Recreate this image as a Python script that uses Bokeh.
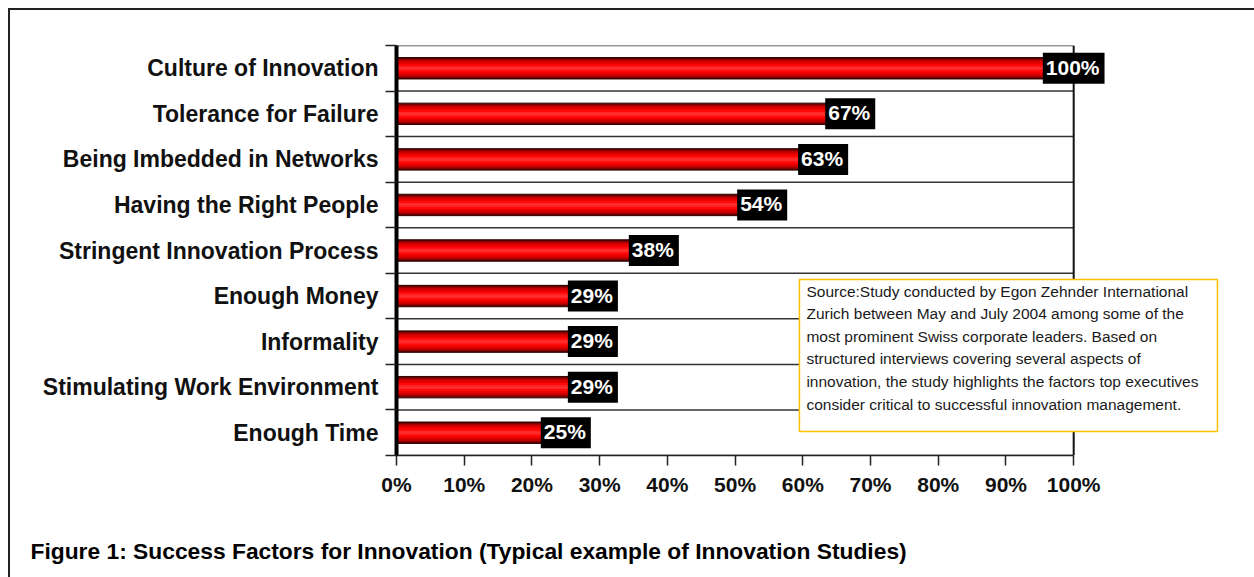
from bokeh.plotting import figure
from bokeh.layouts import column
from bokeh.models import Range1d, LinearAxis, FixedTicker, Label, ColumnDataSource
from bokeh.embed import file_html
from bokeh.resources import INLINE

# ---------------- data ----------------
categories = ["Culture of Innovation", "Tolerance for Failure", "Being Imbedded in Networks",
              "Having the Right People", "Stringent Innovation Process", "Enough Money",
              "Informality", "Stimulating Work Environment", "Enough Time"]
values = [100, 67, 63, 54, 38, 29, 29, 29, 25]
x_ticks = [0, 10, 20, 30, 40, 50, 60, 70, 80, 90, 100]
note_lines = ["Source:Study conducted by Egon Zehnder International",
              "Zurich between May and July 2004 among some of the",
              "most prominent Swiss corporate leaders. Based on",
              "structured interviews covering several aspects of",
              "innovation, the study highlights the factors top executives",
              "consider critical to successful innovation management."]
caption = "Figure 1: Success Factors for Innovation (Typical example of Innovation Studies)"

n = len(categories)
centers = [n - i - 0.5 for i in range(n)]
bounds_y = list(range(n + 1))
src = ColumnDataSource(dict(y=centers, v=values, cat=categories))

ARIAL = "Liberation Sans"
X_MAX = 100
X_END = 126.7   # frame extends to the right so the note box is not clipped
W = 1244
H_MAIN = 490
H_CAP = 77

p = figure(width=W, height=H_MAIN, output_backend="svg", toolbar_location=None,
           x_range=Range1d(0, X_END), y_range=Range1d(0, n),
           y_axis_location=None, x_axis_location="below",
           min_border_left=386, min_border_right=0, min_border_top=35, min_border_bottom=45)
p.background_fill_color = "white"
p.border_fill_color = "white"
p.outline_line_color = None

# inner axis: ticks at category boundaries
tick_axis = LinearAxis(ticker=FixedTicker(ticks=bounds_y),
                       major_label_text_font_size="0px", major_tick_out=11, major_tick_in=0,
                       minor_tick_out=0, minor_tick_in=0, axis_line_width=4,
                       axis_line_color="black", major_tick_line_color="#222222",
                       major_tick_line_width=1.5, major_label_standoff=0)
p.add_layout(tick_axis, "left")
# outer axis: category names at row centres
cat_axis = LinearAxis(ticker=FixedTicker(ticks=centers),
                      major_label_overrides={c: name for c, name in zip(centers, categories)},
                      axis_line_color=None, major_tick_line_color=None,
                      minor_tick_line_color=None,
                      major_tick_out=0, major_tick_in=0, major_label_standoff=7,
                      major_label_text_font=ARIAL, major_label_text_font_style="bold",
                      major_label_text_font_size="23px", major_label_text_color="#111111")
p.add_layout(cat_axis, "left")

p.xaxis.bounds = (0, X_MAX)
p.xaxis.ticker = FixedTicker(ticks=x_ticks)
p.xaxis.major_label_overrides = {t: f"{t}%" for t in x_ticks}
p.xaxis.major_tick_out = 10
p.xaxis.major_tick_in = 0
p.xaxis.minor_tick_out = 0
p.xaxis.minor_tick_in = 0
p.xaxis.axis_line_color = "#222222"
p.xaxis.axis_line_width = 1.5
p.xaxis.major_tick_line_color = "#222222"
p.xaxis.major_tick_line_width = 1.5
p.xaxis.major_label_text_font = ARIAL
p.xaxis.major_label_text_font_style = "bold"
p.xaxis.major_label_text_font_size = "21px"
p.xaxis.major_label_text_color = "#111111"
p.xaxis.major_label_standoff = 7

p.xgrid.visible = False
p.ygrid.visible = False

# horizontal row separators and right edge at 100%
p.segment(x0=[0] * len(bounds_y), x1=[X_MAX] * len(bounds_y), y0=bounds_y, y1=bounds_y,
          line_color="#333333", line_width=1.5)
p.segment(x0=[X_MAX], x1=[X_MAX], y0=[0], y1=[n], line_color="#111111", line_width=2)

# cylinder-like bars: layered bands
layers = [(0.47, "#4a0000"), (0.42, "#8c0000"), (0.36, "#c20000"),
          (0.28, "#e80000"), (0.18, "#ff0a0a"), (0.08, "#ff2a2a")]
for k, (h, col) in enumerate(layers):
    p.hbar(y="y", right="v", left=0, height=h, source=src,
           fill_color=col, line_color="#300000" if k == 0 else None, line_width=1)

# value labels: white bold on black boxes
for yc, v in zip(centers, values):
    p.add_layout(Label(x=v, y=yc, text=f"{v}%", text_align="center",
                       text_baseline="middle", text_color="white", text_font=ARIAL,
                       text_font_style="bold", text_font_size="21px",
                       background_fill_color="black", padding=(3, 5, 3, 5)))

# source note
p.add_layout(Label(x=59.5, y=3.863, text="\n".join(note_lines),
                   text_align="left", text_baseline="top", text_color="#1a1a1a",
                   text_font=ARIAL, text_font_size="15.5px", text_line_height=1.33,
                   background_fill_color="white", border_line_color="#FFC000",
                   border_line_width=1.5, padding=(7, 19, 3, 19)))

# caption strip below the chart (title of an empty strip figure)
pc = figure(width=W, height=H_CAP, output_backend="svg", toolbar_location=None,
            x_range=Range1d(0, 1), y_range=Range1d(0, 1),
            x_axis_location=None, y_axis_location=None,
            min_border_left=386, min_border_right=0, min_border_top=0, min_border_bottom=47)
pc.outline_line_color = None
pc.xgrid.visible = False
pc.ygrid.visible = False
pc.background_fill_color = "white"
pc.border_fill_color = "white"
pc.title.text = caption
pc.title_location = "below"
pc.title.align = "left"
pc.title.offset = -366
pc.title.standoff = 10
pc.title.text_font = ARIAL
pc.title.text_font_style = "bold"
pc.title.text_font_size = "22.8px"
pc.title.text_color = "black"

layout = column(p, pc, spacing=0,
                styles={"margin-left": "8px", "margin-top": "8px",
                        "border-left": "2px solid #222", "border-top": "2px solid #222"})

open("out.html", "w").write(file_html(layout, INLINE))
